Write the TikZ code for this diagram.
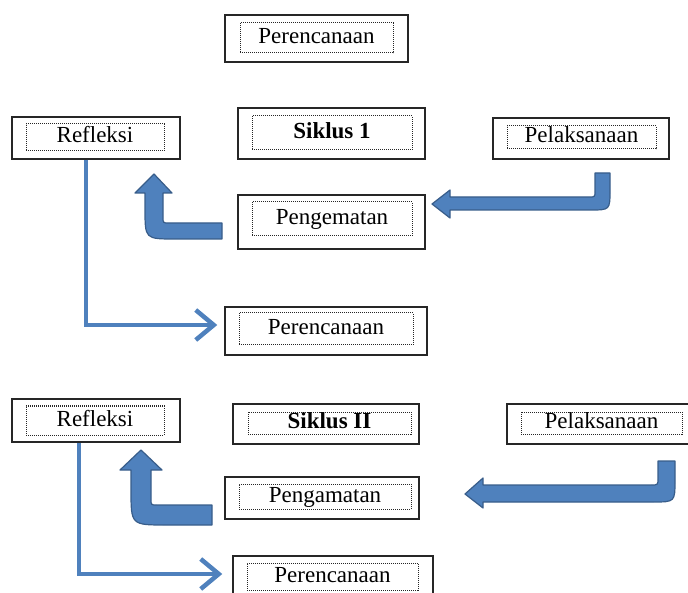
\documentclass[tikz,border=0pt]{standalone}
\usepackage{fontspec}
\setmainfont{Liberation Serif}
\usetikzlibrary{arrows.meta}
\usetikzlibrary{positioning}

\definecolor{panah}{RGB}{79,129,189}
\definecolor{panahgelap}{RGB}{56,93,138}

\tikzset{
  kotak/.style={draw=black!85, line width=1.5pt, inner sep=0pt},
  isian/.style={draw=black!85, densely dotted, line width=1pt, inner sep=0pt,
    text height=16pt, text depth=5pt, font=\fontsize{23}{27}\selectfont},
  garis/.style={draw=panah, line width=4.5pt, -{Straight Barb[length=18pt,width=30pt]}},
  blok/.style={fill=panah, draw=panahgelap, line width=1.2pt, line join=round},
}

\begin{document}
\begin{tikzpicture}[x=1pt,y=-1pt]
\useasboundingbox (0,0) rectangle (688,593);
\clip (0,0) rectangle (688,593);

% Draw the boxes: outer frame and dotted text field
\foreach \nm/\ax/\ay/\bx/\by/\cx/\cy/\dx/\dy/\teks in {
    pr1/225/15/408/62/240/23/393/53/Perencanaan,
    ref1/12/117/180/159/26/124/164/151/Refleksi,
    sik1/238/108/425/159/252/116/412/150/\textbf{Siklus 1},
    pel1/493/118/669/159/507/126/656/149/Pelaksanaan,
    pgm1/238/195/425/249/252/202/412/236/Pengematan,
    pr2/225/307/427/355/239/313/413/345/Perencanaan,
    ref2/12/399/180/442/26/406/164/435/Refleksi,
    sik2/233/404/419/444/248/412/411/434/\textbf{Siklus II},
    pel2/507/404/696/444/521/412/682/434/Pelaksanaan,
    pgm2/225/477/419/519/239/484/411/509/Pengamatan,
    pr3/233/556/433/602/247/563/418/590/Perencanaan} {
    \pgfmathsetmacro\lebar{\bx-\ax}
    \pgfmathsetmacro\tinggi{\by-\ay}
    \node[kotak, minimum width=\lebar pt, minimum height=\tinggi pt] (\nm) at ({(\ax+\bx)/2},{(\ay+\by)/2}) {};
    \pgfmathsetmacro\lebar{\dx-\cx}
    \pgfmathsetmacro\tinggi{\dy-\cy}
    \node[isian, minimum width=\lebar pt, minimum height=\tinggi pt] (\nm-t) at ({(\cx+\dx)/2},{(\cy+\dy)/2}) {\teks};
}

% Lines from Refleksi down to Perencanaan
\draw[garis] ([xshift=-10pt]ref1.south) |- ([xshift=-7pt,yshift=6pt]pr2.west);
\draw[garis] ([xshift=-17pt]ref2.south) |- ([xshift=-10pt,yshift=5pt]pr3.west);

% Block arrows, cycle 1
\filldraw[blok] (222,223) -- (169,223) .. controls (163,223) .. (163,217) -- (163,193)
  -- (172,193) -- (154,174) -- (135,193) -- (145,193) -- (145,209)
  .. controls (145,239) .. (175,239) -- (222,239) -- cycle;
\filldraw[blok] (595,173) -- (610,173) -- (610,190) .. controls (610,210) .. (590,210)
  -- (450,210) -- (450,218) -- (432,204) -- (450,190) -- (450,197) -- (589,197)
  .. controls (595,197) .. (595,191) -- cycle;

% Block arrows, cycle 2
\filldraw[blok] (212,505) -- (157,505) .. controls (151,505) .. (151,499) -- (151,470)
  -- (162,470) -- (141,450) -- (120,470) -- (131,470) -- (131,490)
  .. controls (131,525) .. (166,525) -- (212,525) -- cycle;
\filldraw[blok] (658,461) -- (675,461) -- (675,480) .. controls (675,502) .. (653,502)
  -- (483,502) -- (483,508) -- (465,494) -- (483,478) -- (483,485) -- (651,485)
  .. controls (658,485) .. (658,478) -- cycle;
\end{tikzpicture}
\end{document}
